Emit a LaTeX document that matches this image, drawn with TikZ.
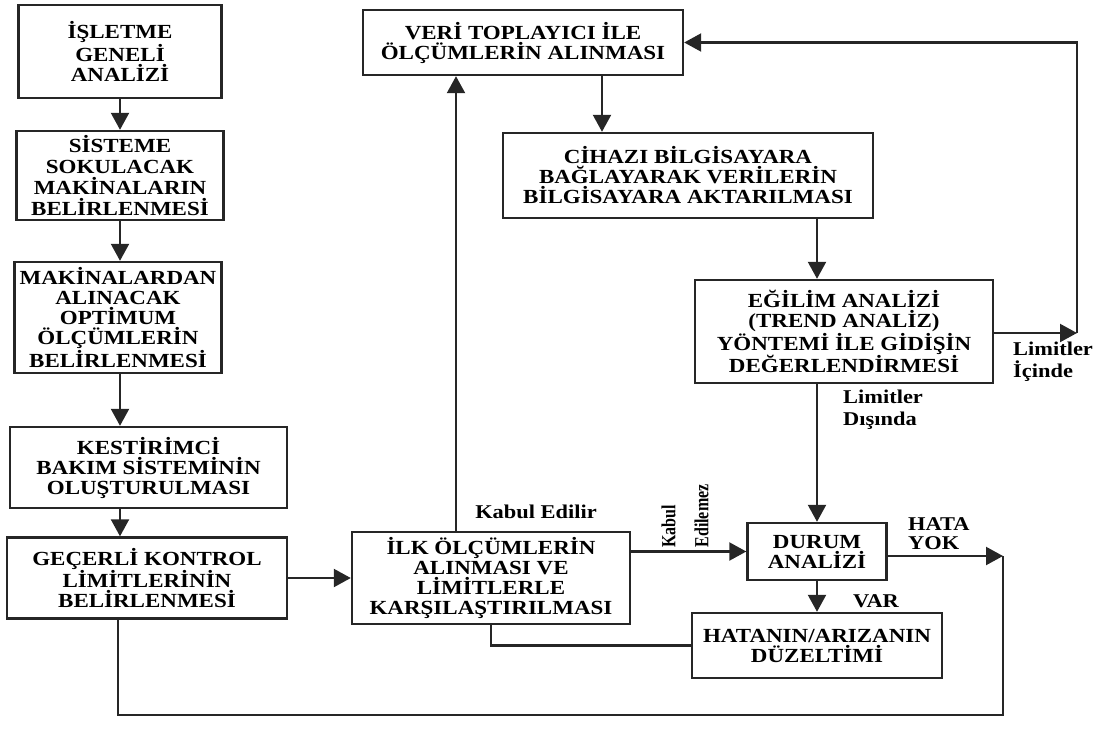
\documentclass[tikz,border=0pt]{standalone}
\usepackage{fontspec}
\setmainfont{Liberation Serif}[FakeStretch=1.15]
\newfontfamily\narrowfont{Liberation Serif}[FakeStretch=0.8]
\usetikzlibrary{arrows.meta,positioning}

\begin{document}
\begin{tikzpicture}[
    x=1pt, y=-1pt,
    block/.style={draw=black!85, line width=2.4pt, align=center, inner sep=2pt, font=\fontsize{20}{20}\selectfont\bfseries},
    arrow/.style={-{Triangle[length=17pt, width=18pt]}, line width=2.2pt, draw=black!85},
    link/.style={line width=2.2pt, draw=black!85},
    note/.style={font=\fontsize{19.5}{22}\selectfont\bfseries, align=left, inner sep=0pt}
]
    \useasboundingbox (0,0) rectangle (1103,729);

    % --- LEFT COLUMN ---
    \node[block, minimum width=203pt, minimum height=93pt] (isletme) at (120,51.5) {İŞLETME\\GENELİ\\ANALİZİ};
    \node[block, minimum width=207pt, minimum height=89pt, font=\fontsize{20}{21}\selectfont\bfseries] (sisteme) at (120,175.5) {SİSTEME\\SOKULACAK\\MAKİNALARIN\\BELİRLENMESİ};
    \node[block, minimum width=207pt, minimum height=111pt] (optimum) at (118,317.5) {MAKİNALARDAN\\ALINACAK\\OPTİMUM\\ÖLÇÜMLERİN\\BELİRLENMESİ};
    \node[block, minimum width=277pt, minimum height=81pt] (kestirim) at (148.5,467.5) {KESTİRİMCİ\\BAKIM SİSTEMİNİN\\OLUŞTURULMASI};
    \node[block, minimum width=280pt, minimum height=81pt] (limit) at (147,578) {GEÇERLİ KONTROL\\LİMİTLERİNİN\\BELİRLENMESİ};

    \draw[arrow] (isletme) -- (sisteme);
    \draw[arrow] (sisteme) -- (sisteme |- optimum.north);
    \draw[arrow] (optimum.south -| sisteme) -- (sisteme |- kestirim.north);
    \draw[arrow] (kestirim.south -| sisteme) -- (sisteme |- limit.north);

    % --- MIDDLE ---
    \node[block, minimum width=278pt, minimum height=92pt] (ilk) at (491,578) {İLK ÖLÇÜMLERİN\\ALINMASI VE\\LİMİTLERLE\\KARŞILAŞTIRILMASI};
    \node[block, minimum width=320pt, minimum height=65pt] (veri) at (523,42.5) {VERİ TOPLAYICI İLE\\ÖLÇÜMLERİN ALINMASI};
    \node[block, minimum width=370pt, minimum height=85pt] (cihaz) at (688,175.5) {CİHAZI BİLGİSAYARA\\BAĞLAYARAK VERİLERİN\\BİLGİSAYARA AKTARILMASI};
    \node[block, minimum width=298pt, minimum height=103pt] (egilim) at (844,331.5) {EĞİLİM ANALİZİ\\(TREND ANALİZ)\\YÖNTEMİ İLE GİDİŞİN\\DEĞERLENDİRMESİ};
    \node[block, minimum width=139pt, minimum height=57pt] (durum) at (817,551.5) {DURUM\\ANALİZİ};
    \node[block, minimum width=250pt, minimum height=65pt] (duzelt) at (817,645.5) {HATANIN/ARIZANIN\\DÜZELTİMİ};

    \coordinate (icinde) at (1077,333);
    \coordinate (yok) at (1003,556);
    \coordinate (dip) at (1003,715);

    \draw[arrow] (limit) -- (ilk);
    \draw[arrow] ([xshift=-35pt]ilk.north) -- ([xshift=-35pt]ilk.north |- veri.south);
    \draw[arrow] ([xshift=79pt]veri.south) -- ([xshift=79pt]veri.south |- cihaz.north);
    \draw[arrow] (durum |- cihaz.south) -- (durum |- egilim.north);
    \draw[arrow] (durum |- egilim.south) -- (durum);
    \draw[arrow] (ilk.east |- durum) -- (durum);
    \draw[arrow] (durum) -- (duzelt);
    \draw[link] (duzelt.west) -| (ilk.south);

    % feedback loops
    \draw[arrow] (egilim.east |- icinde) -- (icinde);
    \draw[arrow] (icinde) |- (veri);
    \draw[arrow] (durum.east |- yok) -- (yok);
    \draw[link] (yok) -- (dip) -| ([xshift=-29pt]limit.south);

    % labels
    \node[note] (kabul) at (536,512) {Kabul Edilir};
    \node[note, rotate=90, font=\fontsize{20}{33}\narrowfont\bfseries] (kabulmez) at (685,516) {Kabul\\Edilemez};
    \node[note, anchor=west, font=\fontsize{19.5}{19}\selectfont\bfseries] (hatayok) at (908,534) {HATA\\YOK};
    \node[note, anchor=west] (var) at (853,601) {VAR};
    \node[note, anchor=west] (lic) at (1013,362) {Limitler\\İçinde};
    \node[note, anchor=west] (ldis) at (843,410) {Limitler\\Dışında};
\end{tikzpicture}
\end{document}
